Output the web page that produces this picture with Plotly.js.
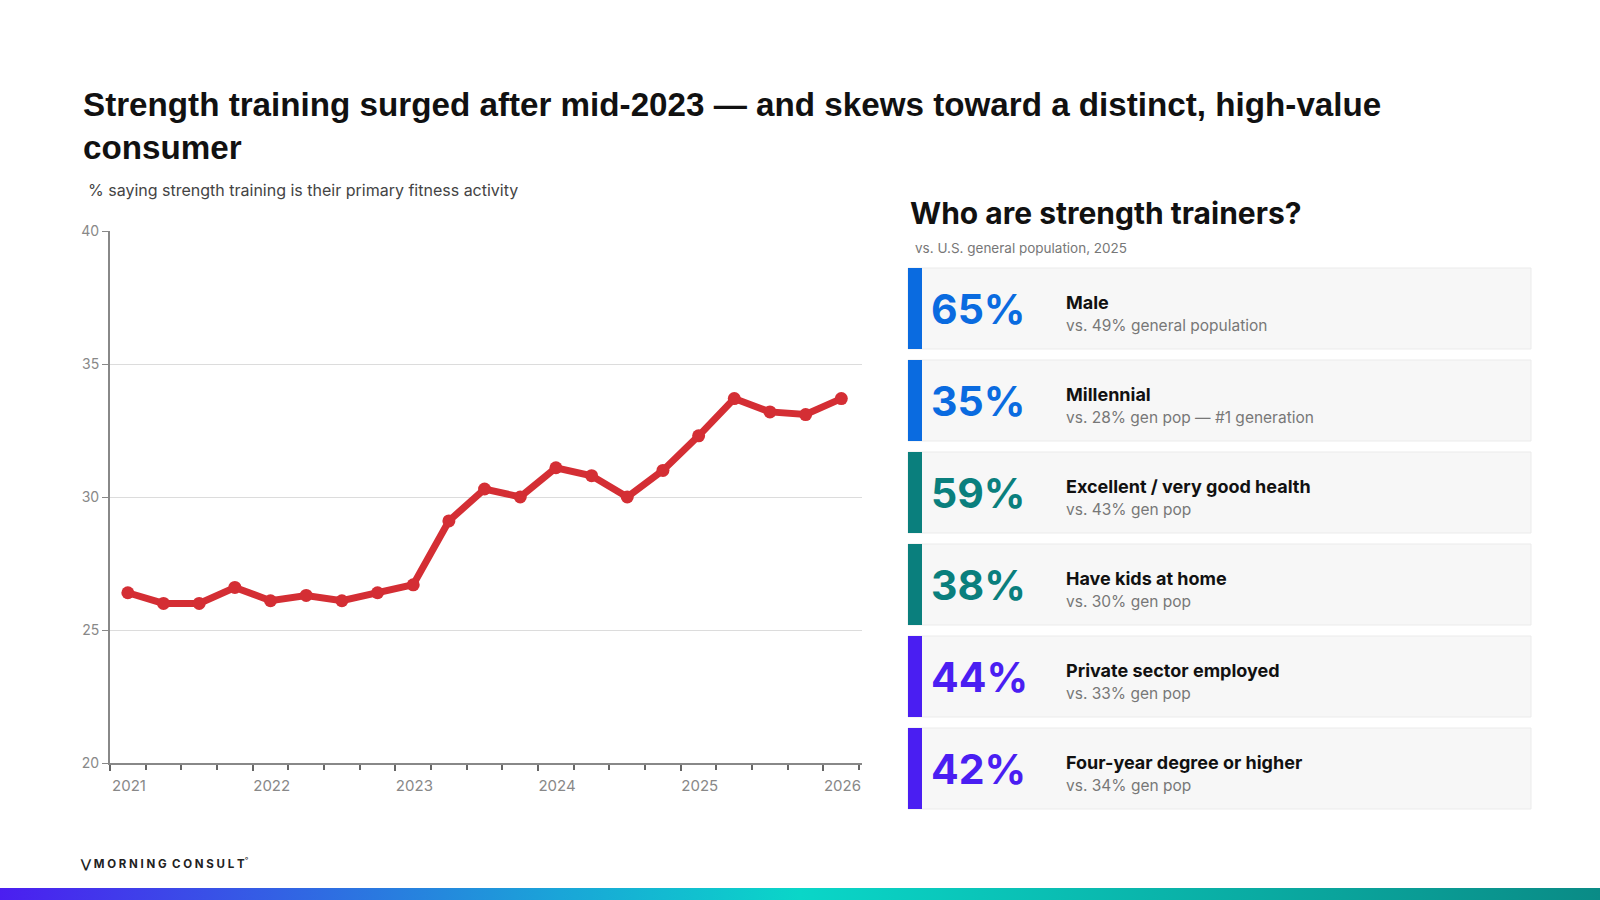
<!DOCTYPE html>
<html><head><meta charset="utf-8">
<script src="https://cdn.plot.ly/plotly-3.0.1.min.js"></script>
<style>body{margin:0;background:#fff}#c{width:1600px;height:900px;position:relative}
#bar{position:absolute;left:0;top:888px;width:1600px;height:12px;background:linear-gradient(90deg,#4b1ef0,#1aa5d8 35%,#0ad6c8 50%,#0a8b86 100%)}</style>
</head><body><div id="c"><div id="plot"></div><div id="bar"></div></div>
<script>
const xVals=[2021.125,2021.375,2021.625,2021.875,2022.125,2022.375,2022.625,2022.875,2023.125,2023.375,2023.625,2023.875,2024.125,2024.375,2024.625,2024.875,2025.125,2025.375,2025.625,2025.875,2026.125];
const shareVals=[26.4,26.0,26.0,26.6,26.1,26.3,26.1,26.4,26.7,29.1,30.3,30.0,31.1,30.8,30.0,31.0,32.3,33.7,33.2,33.1,33.7];
const yearTicks=[2021,2022,2023,2024,2025,2026];
const cardPcts=["65%","35%","59%","38%","44%","42%"];
const cardLabels=["Male","Millennial","Excellent / very good health","Have kids at home","Private sector employed","Four-year degree or higher"];
const cardSubs=["vs. 49% general population","vs. 28% gen pop — #1 generation","vs. 43% gen pop","vs. 30% gen pop","vs. 33% gen pop","vs. 34% gen pop"];
const cardColors=["#0a6be0","#0a6be0","#0a7f7d","#0a7f7d","#4a1ef2","#4a1ef2"];

const W=1600,H=900;
const px=x=>x/W, py=y=>1-y/H;
const shapes=[],ann=[];
const F="Inter, 'Open Sans', sans-serif";
ann.push({xref:'paper',yref:'paper',x:px(81),y:py(84),xanchor:'left',yanchor:'top',align:'left',showarrow:false,
 text:'<b>Strength training surged after mid-2023 — and skews toward a distinct, high-value<br>consumer</b>',font:{family:"'Liberation Sans', Arial, sans-serif",size:33.2,color:'#111'}});
ann.push({xref:'paper',yref:'paper',x:px(86),y:py(190),xanchor:'left',yanchor:'middle',showarrow:false,
 text:'% saying strength training is their primary fitness activity',font:{family:F,size:16,color:'#444'}});
ann.push({xref:'paper',yref:'paper',x:px(908),y:py(213),xanchor:'left',yanchor:'middle',showarrow:false,
 text:'<b>Who are strength trainers?</b>',font:{family:F,size:30,color:'#111'}});
ann.push({xref:'paper',yref:'paper',x:px(913),y:py(248),xanchor:'left',yanchor:'middle',showarrow:false,
 text:'vs. U.S. general population, 2025',font:{family:F,size:13.5,color:'#777'}});
ann.push({xref:'paper',yref:'paper',x:px(78),y:py(863),xanchor:'left',yanchor:'middle',showarrow:false,
 text:'<b>⋁ M O R N I N G  C O N S U L T</b><sup>°</sup>',font:{family:F,size:11.5,color:'#222'}});
for(let i=0;i<cardPcts.length;i++){
 const t=268+i*92,b=t+81,mid=(t+b)/2;
 shapes.push({type:'rect',xref:'paper',yref:'paper',x0:px(908),x1:px(1531),y0:py(b),y1:py(t),fillcolor:'#f7f7f7',line:{color:'#ebebeb',width:1}});
 shapes.push({type:'rect',xref:'paper',yref:'paper',x0:px(908),x1:px(922),y0:py(b),y1:py(t),fillcolor:cardColors[i],line:{width:0}});
 ann.push({xref:'paper',yref:'paper',x:px(929),y:py(mid),xanchor:'left',yanchor:'middle',showarrow:false,
  text:'<b>'+cardPcts[i]+'</b>',font:{family:F,size:41,color:cardColors[i]}});
 ann.push({xref:'paper',yref:'paper',x:px(1064),y:py(mid-6),xanchor:'left',yanchor:'middle',showarrow:false,
  text:'<b>'+cardLabels[i]+'</b>',font:{family:F,size:18,color:'#111'}});
 ann.push({xref:'paper',yref:'paper',x:px(1064),y:py(mid+17),xanchor:'left',yanchor:'middle',showarrow:false,
  text:cardSubs[i],font:{family:F,size:15.5,color:'#777'}});
}
const trace={x:xVals,y:shareVals,mode:'lines+markers',type:'scatter',line:{color:'#d42e34',width:7},marker:{color:'#d42e34',size:13},hoverinfo:'skip'};
const layout={width:W,height:H,margin:{l:0,r:0,t:0,b:0},paper_bgcolor:'#fff',plot_bgcolor:'#fff',showlegend:false,
 xaxis:{domain:[px(110),px(862)],range:[2021,2026.27],tickvals:yearTicks,ticktext:yearTicks.map(String),showgrid:false,zeroline:false,
  showline:true,linecolor:'#888',linewidth:2,ticks:'outside',ticklen:6,tickcolor:'#666',tickwidth:2,
  minor:{dtick:0.25,tick0:2021,ticks:'outside',ticklen:5,tickcolor:'#666',tickwidth:2},
  tickfont:{family:F,size:15,color:'#888'},ticklabelshift:19,ticklabelstandoff:2},
 yaxis:{domain:[py(763),py(231)],range:[20,40],tickvals:[20,25,30,35,40],showgrid:true,gridcolor:'#dcdcdc',gridwidth:1,zeroline:false,
  showline:true,linecolor:'#888',linewidth:2,ticks:'outside',ticklen:6,tickcolor:'#888',tickfont:{family:F,size:14,color:'#888'}},
 shapes:shapes,annotations:ann};
Plotly.newPlot('plot',[trace],layout,{displayModeBar:false,staticPlot:true});
</script></body></html>
